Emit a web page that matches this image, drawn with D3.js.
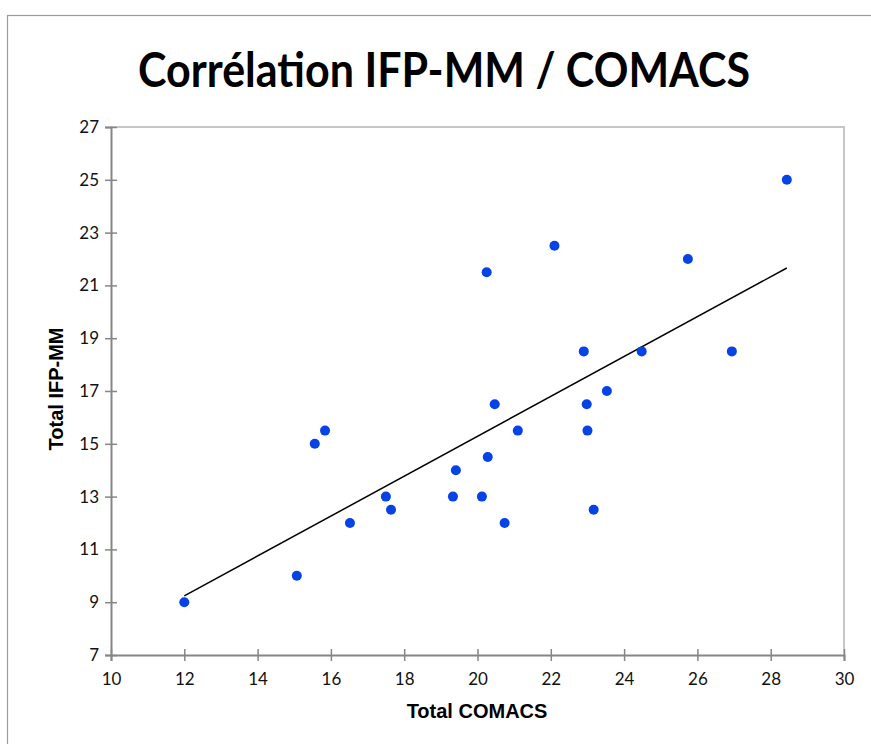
<!DOCTYPE html>
<html>
<head>
<meta charset="utf-8">
<script src="https://cdn.jsdelivr.net/npm/d3@7"></script>
<style>
  html, body { margin: 0; padding: 0; background: #fff; }
  svg { display: block; }
</style>
</head>
<body>
<svg id="chart" width="871" height="744"></svg>
<script>
// ---- data ----
const comacs = [12, 15.07, 15.56, 15.84, 16.52, 17.5, 17.64, 19.33, 19.41, 20.12, 20.28, 20.25, 20.47, 20.74, 21.1, 22.1, 22.9, 22.98, 23.0, 23.17, 23.53, 24.48, 25.74, 26.94, 28.44];
const ifpmm  = [9, 10, 15, 15.5, 12, 13, 12.5, 13, 14, 13, 14.5, 21.5, 16.5, 12, 15.5, 22.5, 18.5, 16.5, 15.5, 12.5, 17, 18.5, 22, 18.5, 25];
const xTicks = [10, 12, 14, 16, 18, 20, 22, 24, 26, 28, 30];
const yTicks = [7, 9, 11, 13, 15, 17, 19, 21, 23, 25, 27];
const title = "Corrélation IFP-MM / COMACS";
const xTitle = "Total COMACS";
const yTitle = "Total IFP-MM";

const svg = d3.select("#chart");
const pLeft = 111, pRight = 844, pTop = 127, pBottom = 655;

// outer chart border
svg.append("rect").attr("x", 7.5).attr("y", 15.5).attr("width", 880).attr("height", 760)
  .attr("fill", "#fff").attr("stroke", "#9a9a9a").attr("stroke-width", 1.2);

const x = d3.scaleLinear().domain([10, 30]).range([pLeft, pRight]);
const y = d3.scaleLinear().domain([7, 27]).range([pBottom, pTop]);

// plot area border (top & right)
svg.append("path")
  .attr("d", `M${pLeft},${pTop}H${pRight}V${pBottom}`)
  .attr("fill", "none").attr("stroke", "#c6c6c6").attr("stroke-width", 2);

// axes
const tickFont = "Lato, 'Open Sans', sans-serif";
const xAxis = svg.append("g").attr("transform", `translate(0,${pBottom})`)
  .call(d3.axisBottom(x).tickValues(xTicks).tickFormat(d3.format("d")).tickSizeOuter(0).tickSize(6));
const yAxis = svg.append("g").attr("transform", `translate(${pLeft},0)`)
  .call(d3.axisLeft(y).tickValues(yTicks).tickFormat(d3.format("d")).tickSizeOuter(0).tickSize(6));

[xAxis, yAxis].forEach(g => {
  g.select(".domain").attr("stroke", "#868686").attr("stroke-width", 2);
  g.selectAll(".tick line").attr("stroke", "#868686").attr("stroke-width", 1.5);
  g.selectAll(".tick text").attr("fill", "#111").style("font-family", tickFont).style("font-size", "17px");
});
// cross ticks (extend to both sides)
xAxis.selectAll(".tick line").attr("y1", -6).attr("y2", 6);
yAxis.selectAll(".tick line").attr("x1", -6).attr("x2", 6);
xAxis.selectAll(".tick text").attr("y", 18);
yAxis.selectAll(".tick text").attr("x", -12);

// regression line
const n = comacs.length;
const mx = d3.mean(comacs), my = d3.mean(ifpmm);
let sxy = 0, sxx = 0;
for (let i = 0; i < n; i++) { sxy += (comacs[i] - mx) * (ifpmm[i] - my); sxx += (comacs[i] - mx) ** 2; }
const slope = sxy / sxx, intercept = my - slope * mx;
const [x0, x1] = d3.extent(comacs);
svg.append("line")
  .attr("x1", x(x0)).attr("y1", y(intercept + slope * x0))
  .attr("x2", x(x1)).attr("y2", y(intercept + slope * x1))
  .attr("stroke", "#000").attr("stroke-width", 1.5);

// points
svg.append("g").selectAll("circle")
  .data(d3.range(n))
  .join("circle")
  .attr("cx", i => x(comacs[i]))
  .attr("cy", i => y(ifpmm[i]))
  .attr("r", 5)
  .attr("fill", "#0543e6");

// titles
svg.append("text")
  .attr("x", 444).attr("y", 87)
  .attr("text-anchor", "middle")
  .attr("textLength", 612).attr("lengthAdjust", "spacingAndGlyphs")
  .style("font-family", "Lato, 'Open Sans', sans-serif")
  .style("font-weight", "bold").style("font-size", "48px")
  .attr("fill", "#000")
  .text(title);

svg.append("text")
  .attr("x", 477).attr("y", 718)
  .attr("text-anchor", "middle")
  .style("font-family", "'Liberation Sans', Arial, sans-serif")
  .style("font-weight", "bold").style("font-size", "20px")
  .text(xTitle);

svg.append("text")
  .attr("transform", "translate(63,389) rotate(-90)")
  .attr("text-anchor", "middle")
  .style("font-family", "'Liberation Sans', Arial, sans-serif")
  .style("font-weight", "bold").style("font-size", "20px")
  .text(yTitle);
</script>
</body>
</html>
